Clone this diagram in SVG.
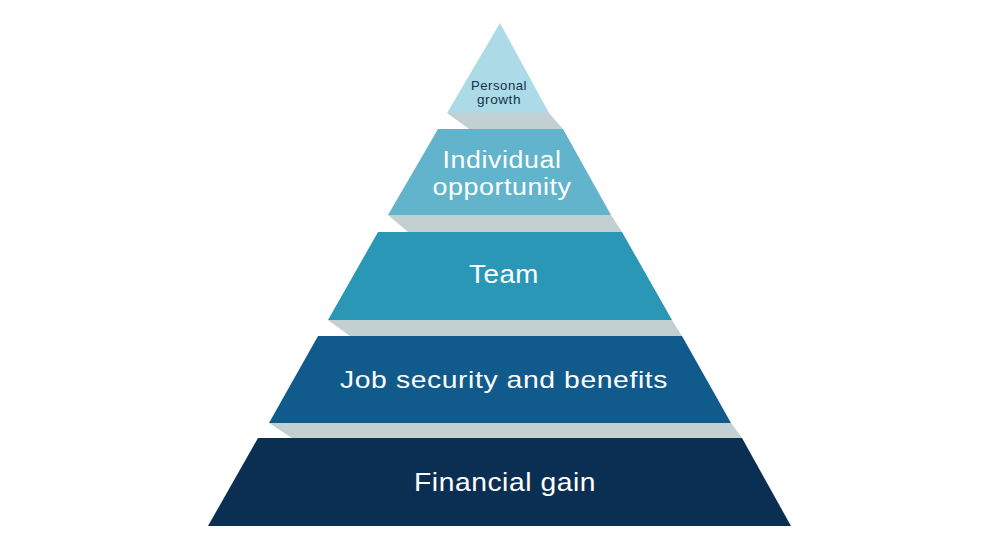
<svg xmlns="http://www.w3.org/2000/svg" width="1000" height="550" viewBox="0 0 1000 550">
  <style>
    .shadow { fill: #c3d0d2; }
    .lbl { font-family: "Liberation Sans", Arial, sans-serif; fill: #ffffff; text-anchor: middle; letter-spacing: 0.5px; }
    .dark { fill: #15304d; }
  </style>
  <rect width="1000" height="550" fill="#ffffff"/>
  <g id="shadows">
    <polygon class="shadow" points="447,113 549,113 563,129 469,129"/>
    <polygon class="shadow" points="388,215 611,215 622,232 408,232"/>
    <polygon class="shadow" points="328,320 672,320 682,336 350,336"/>
    <polygon class="shadow" points="269,423 731,423 742,438 292,438"/>
  </g>
  <g id="level1">
    <polygon points="500,23 549,113 447,113" fill="#acdbe7"/>
    <text class="lbl dark" font-size="13" x="499" y="90" textLength="56" lengthAdjust="spacingAndGlyphs">Personal</text>
    <text class="lbl dark" font-size="13" x="499" y="104" textLength="44" lengthAdjust="spacingAndGlyphs">growth</text>
  </g>
  <g id="level2">
    <polygon points="438,129 563,129 611,215 388,215" fill="#62b4cc"/>
    <text class="lbl" font-size="23" x="502" y="168" textLength="119" lengthAdjust="spacingAndGlyphs">Individual</text>
    <text class="lbl" font-size="23" x="502" y="195" textLength="139" lengthAdjust="spacingAndGlyphs">opportunity</text>
  </g>
  <g id="level3">
    <polygon points="378,232 622,232 672,320 328,320" fill="#2b97b7"/>
    <text class="lbl" font-size="25" x="504" y="283" textLength="70" lengthAdjust="spacingAndGlyphs">Team</text>
  </g>
  <g id="level4">
    <polygon points="318,336 682,336 731,423 269,423" fill="#115a8c"/>
    <text class="lbl" font-size="24" x="504" y="388" textLength="328" lengthAdjust="spacingAndGlyphs">Job security and benefits</text>
  </g>
  <g id="level5">
    <polygon points="258,438 742,438 791,526 208,526" fill="#0b2f52"/>
    <text class="lbl" font-size="25" x="505" y="491" textLength="182" lengthAdjust="spacingAndGlyphs">Financial gain</text>
  </g>
</svg>
